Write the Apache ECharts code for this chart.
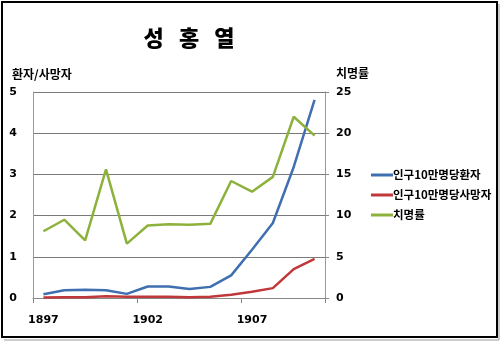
<!DOCTYPE html>
<html><head><meta charset="utf-8">
<script src="https://cdn.jsdelivr.net/npm/echarts@6/dist/echarts.min.js"></script>
<style>html,body{margin:0;padding:0;background:#fff}#c{width:500px;height:343px}</style>
</head><body><div id="c"></div>
<script>
const years = ['1897','1898','1899','1900','1901','1902','1903','1904','1905','1906','1907','1908','1909','1910'];
const patients = [0.09,0.19,0.20,0.19,0.10,0.28,0.28,0.22,0.27,0.55,1.17,1.82,3.18,4.81];
const deaths = [0.01,0.02,0.02,0.04,0.03,0.03,0.03,0.02,0.03,0.08,0.15,0.24,0.70,0.95];
const fatality = [8.1,9.5,7.0,15.6,6.6,8.8,8.95,8.9,9.0,14.2,12.9,14.7,22.0,19.7];
const seriesNames = ['인구10만명당환자','인구10만명당사망자','치명률'];

const KR = '"Noto Sans CJK KR", "Noto Sans", sans-serif';
const NUM = '"DejaVu Sans", sans-serif';
const chart = echarts.init(document.getElementById('c'));
chart.setOption({
  animation:false,
  backgroundColor:'#fff',
  title:[
    {text:'성   홍   열', left:184, top:22, textAlign:'center', textStyle:{fontFamily:KR, fontSize:22, fontWeight:900, color:'#000'}},
    {text:'환자/사망자', left:7, top:63, textStyle:{fontFamily:KR, fontSize:12, fontWeight:'bold', color:'#000'}},
    {text:'치명률', left:331, top:62, textStyle:{fontFamily:KR, fontSize:12, fontWeight:'bold', color:'#000'}}
  ],
  graphic:[
    {type:'rect', shape:{x:2,y:2,width:495,height:335}, style:{fill:'none', stroke:'#000', lineWidth:2}},
    {type:'line', shape:{x1:499,y1:4,x2:499,y2:340}, style:{stroke:'#bbb', lineWidth:1.5}},
    {type:'line', shape:{x1:4,y1:340,x2:499,y2:340}, style:{stroke:'#bbb', lineWidth:1.5}}
  ],
  legend:{
    orient:'vertical', left:366, top:163, itemWidth:22, itemHeight:3, itemGap:6,
    icon:'rect',
    data:seriesNames,
    textStyle:{fontFamily:KR, fontSize:11.5, fontWeight:'bold', color:'#000', padding:[0,0,0,-5], lineHeight:14}
  },
  grid:{left:33, right:175, top:92, bottom:45},
  xAxis:{
    type:'category', data:years, boundaryGap:true,
    axisLine:{lineStyle:{color:'#888', width:1}},
    axisTick:{show:true, length:5, lineStyle:{color:'#888'}},
    axisLabel:{interval:4, margin:17, fontFamily:NUM, fontSize:11, fontWeight:'bold', color:'#000'}
  },
  yAxis:[
    {type:'value', min:0, max:5, interval:1, position:'left',
     axisLine:{show:true, lineStyle:{color:'#999'}}, axisTick:{show:false},
     axisLabel:{margin:20, align:'center', fontFamily:NUM, fontSize:11, fontWeight:'bold', color:'#000'},
     splitLine:{lineStyle:{color:'#7a7a7a', width:1}}},
    {type:'value', min:0, max:25, interval:5, position:'right',
     axisLine:{show:true, lineStyle:{color:'#999'}}, axisTick:{show:true, length:4, lineStyle:{color:'#888'}},
     axisLabel:{margin:11, fontFamily:NUM, fontSize:11, fontWeight:'bold', color:'#000'},
     splitLine:{show:false}}
  ],
  series:[
    {name:seriesNames[0], type:'line', yAxisIndex:0, data:patients, symbol:'none', lineStyle:{color:'#3F6FB0', width:2.5}, itemStyle:{color:'#3F6FB0'}},
    {name:seriesNames[1], type:'line', yAxisIndex:0, data:deaths, symbol:'none', lineStyle:{color:'#C0383A', width:2.5}, itemStyle:{color:'#C0383A'}},
    {name:seriesNames[2], type:'line', yAxisIndex:1, data:fatality, symbol:'none', lineStyle:{color:'#8DB23C', width:2.5}, itemStyle:{color:'#8DB23C'}}
  ]
});
</script></body></html>
